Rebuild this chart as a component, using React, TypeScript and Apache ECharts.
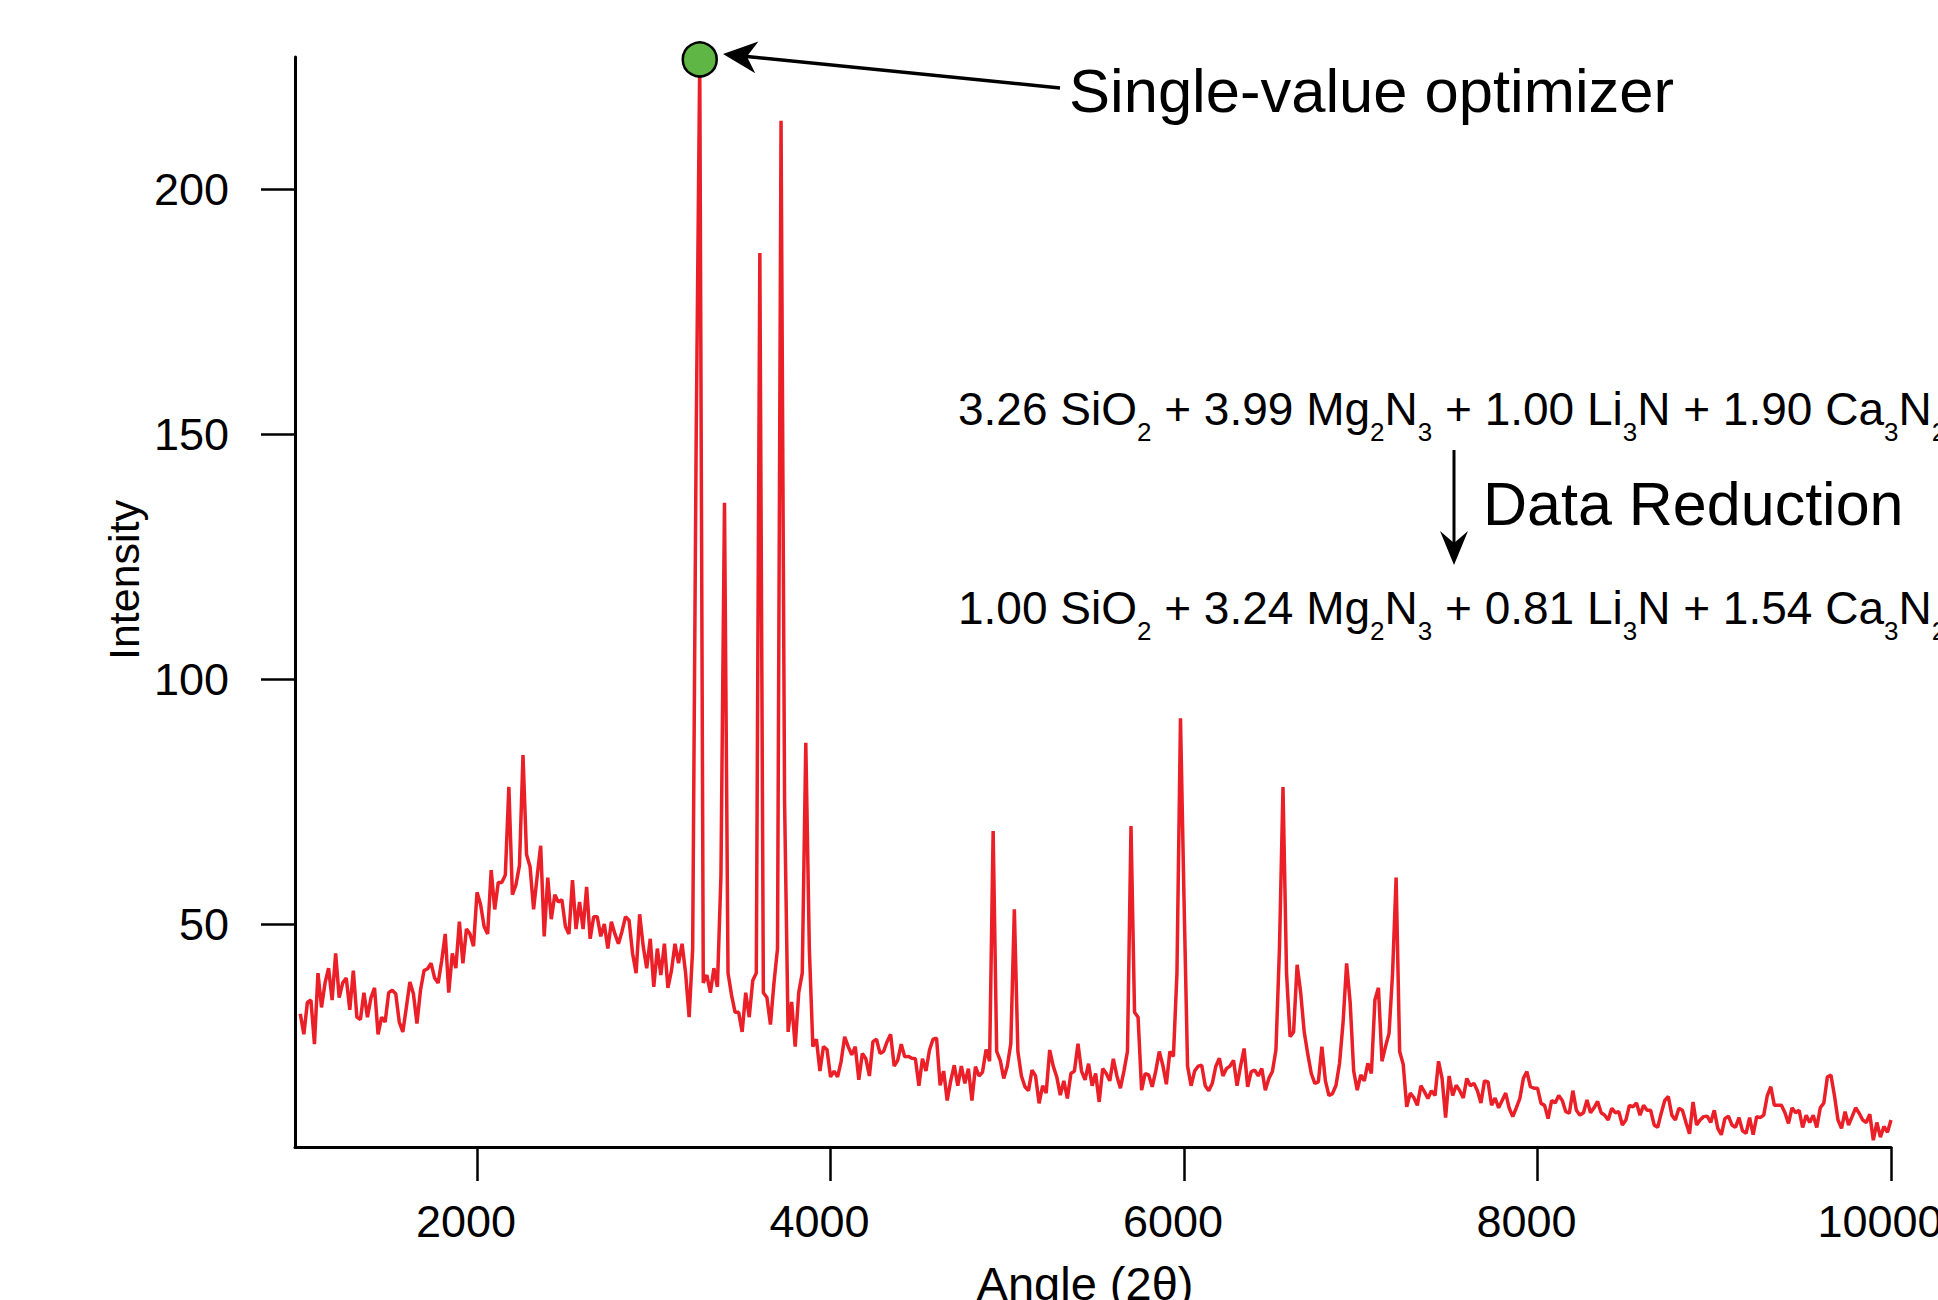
import React, { useEffect, useRef } from "react";
import * as echarts from "echarts";

// ---- Data ----
const ANGLE_START = 1000;
const ANGLE_STEP = 20;

const INTENSITY_1000S = [
  31.7, 27.5, 34, 34.5, 25.5, 40, 33, 38, 41, 34.5,
  44, 35, 38, 39, 32.5, 40.5, 31, 30.5, 36, 31,
  35, 37, 27.5, 31, 30, 36, 36.5, 35.8, 30, 28,
  33, 38.2, 35.8, 29.7, 36.5, 40.5, 40.9, 42, 39, 38,
  42.5, 48, 36, 44, 41, 50.5, 42, 49, 48, 45.5,
];
const INTENSITY_2000S = [
  56.5, 54, 49.5, 48, 61, 53, 58.5, 58.5, 60, 78,
  56, 58, 62, 84.5, 64.2, 61.7, 53, 59.7, 66, 47.5,
  59.5, 51, 56, 54.5, 55, 49.5, 48, 59, 49, 54.5,
  49, 57.6, 47, 51.5, 51.5, 47.5, 50, 45, 50.5, 48,
  46, 48.5, 51.5, 50.8, 44, 40, 52, 45.5, 41, 47,
];
const INTENSITY_3000S = [
  37.2, 45, 39.6, 46, 37, 40.5, 46, 42, 46, 40,
  31, 45, 150, 226.5, 38, 39.6, 36, 41, 37.2, 60,
  136, 40, 35.5, 32, 32, 28, 36, 31, 38.5, 40,
  187, 36, 35, 29.5, 38, 45, 214, 75, 28, 34.1,
  25, 36, 40, 87, 45, 25, 26.5, 20, 25, 24.4,
];
const INTENSITY_4000S = [
  18.8, 20, 18.8, 22, 27, 25, 23.3, 25, 18.2, 23.6,
  22.5, 19, 26, 26.5, 23.6, 24, 26, 27.5, 21, 22.2,
  25.5, 22.9, 23, 22.6, 22.5, 17, 22.5, 20, 24.3, 26.5,
  26.7, 17.1, 20, 14, 18, 21.2, 17, 21, 17.5, 20.5,
  14, 20.9, 19, 19.8, 24.4, 22, 69, 24, 22.2, 18.5,
];
const INTENSITY_5000S = [
  21, 25.6, 53, 24, 19, 16.8, 16, 20.2, 19, 13.4,
  17, 15.5, 24.3, 21, 18.8, 15.1, 18, 14.4, 19.5, 20,
  25.6, 20, 18.2, 21.5, 17, 19.5, 13.7, 20.5, 19.5, 18,
  22.5, 19, 16.5, 20, 24, 70, 32, 31, 16.1, 19.5,
  19.2, 16.8, 20, 24, 21.2, 17.3, 24, 23, 40, 92,
];
const INTENSITY_6000S = [
  55, 21, 17, 20, 21, 21.2, 17, 16, 17.5, 21,
  22.6, 19, 20.5, 21, 22.2, 17, 21, 24.6, 16.8, 19.9,
  20.2, 19, 20.5, 16.1, 18.5, 19.9, 24.3, 45, 78, 40,
  27, 28, 41.7, 36, 28, 23.5, 19.5, 17.5, 17.8, 25,
  18, 15, 15.4, 17.1, 21.6, 30, 42, 34, 20, 16.1,
];
const INTENSITY_7000S = [
  19.2, 18, 21.6, 19.5, 34.5, 37, 22, 25, 27.7, 40,
  59.5, 24, 21.4, 12.7, 15.5, 14.6, 13, 17, 15.8, 14.4,
  16, 15, 22, 18.5, 10.5, 19, 15, 17.1, 16, 14.5,
  18.5, 17, 17.5, 16, 13.5, 18, 17.8, 13, 14.5, 12.5,
  14, 15.5, 12.4, 10.7, 12.5, 14.4, 18.5, 19.9, 16.8, 16.5,
];
const INTENSITY_8000S = [
  16.5, 13.4, 13, 10.3, 14, 13.5, 15, 14, 11.7, 11.4,
  16, 12, 11, 11.5, 14.1, 11.5, 12.5, 13.8, 11.5, 11,
  10, 12.4, 11.5, 11.7, 9, 10, 13, 12.7, 13.5, 11,
  13, 12, 12, 9, 8.5, 11.4, 14, 14.8, 11, 10,
  12.4, 12, 9.5, 7.2, 13.7, 9, 10, 10.7, 10.8, 9.5,
];
const INTENSITY_9000S = [
  12, 8.3, 7, 10.3, 10.8, 9, 8.5, 10.5, 7.8, 7.3,
  10.5, 7, 10.7, 10.5, 11, 15, 16.8, 13, 13, 13,
  11.5, 9.3, 12.5, 11.5, 12, 8.5, 11, 9.5, 11, 8.5,
  12.5, 13.5, 18.8, 19.2, 15, 10, 8.3, 11.7, 9, 10.7,
  12.5, 11.4, 10, 9.5, 11.2, 5.9, 9.5, 6.5, 8.7, 7.5,
  10,
];

const X_TICKS = [2000, 4000, 6000, 8000, 10000];
const Y_TICKS = [50, 100, 150, 200];
const X_RANGE = [970, 10000];
const Y_RANGE = [4.5, 227];

const X_NAME = "Angle (2θ)";
const Y_NAME = "Intensity";
const OPTIMIZER_LABEL = "Single-value optimizer";
const REDUCTION_LABEL = "Data Reduction";
const EQUATION_BEFORE = "{n|3.26 SiO}{s|2}{n| + 3.99 Mg}{s|2}{n|N}{s|3}{n| + 1.00 Li}{s|3}{n|N + 1.90 Ca}{s|3}{n|N}{s|2}";
const EQUATION_AFTER = "{n|1.00 SiO}{s|2}{n| + 3.24 Mg}{s|2}{n|N}{s|3}{n| + 0.81 Li}{s|3}{n|N + 1.54 Ca}{s|3}{n|N}{s|2}";

const FONT = "'Liberation Sans', Arial, Helvetica, sans-serif";

export default function App() {
  const ref = useRef<HTMLDivElement>(null);

  useEffect(() => {
    if (!ref.current) return;
    const chart = echarts.init(ref.current, null, { renderer: "svg" });

    const intensity = [
      ...INTENSITY_1000S,
      ...INTENSITY_2000S,
      ...INTENSITY_3000S,
      ...INTENSITY_4000S,
      ...INTENSITY_5000S,
      ...INTENSITY_6000S,
      ...INTENSITY_7000S,
      ...INTENSITY_8000S,
      ...INTENSITY_9000S,
    ];
    const points = intensity.map((v, i) => [ANGLE_START + i * ANGLE_STEP, v]);
    let maxIdx = 0;
    intensity.forEach((v, i) => {
      if (v > intensity[maxIdx]) maxIdx = i;
    });

    // arrow geometry (annotation styling)
    const tail = [1060, 88];
    const tip = [723, 54];
    const dx = tip[0] - tail[0];
    const dy = tip[1] - tail[1];
    const len = Math.hypot(dx, dy);
    const ux = dx / len, uy = dy / len;
    const nx = -uy, ny = ux;
    const headL = 34, headW = 16, notch = 10;
    const b1 = [tip[0] - headL * ux + headW * nx, tip[1] - headL * uy + headW * ny];
    const b2 = [tip[0] - headL * ux - headW * nx, tip[1] - headL * uy - headW * ny];
    const nt = [tip[0] - (headL - notch) * ux, tip[1] - (headL - notch) * uy];

    const downX = 1454, downTop = 450, downTip = 565;

    const rich = {
      n: { fontSize: 46, fontFamily: FONT, fill: "#000", color: "#000" },
      s: { fontSize: 26, fontFamily: FONT, fill: "#000", color: "#000", padding: [45, 0, 0, 0] },
    };

    const textStyle = (text: string, size: number) => ({
      text,
      fontSize: size,
      fontFamily: FONT,
      fill: "#000",
      align: "left",
      verticalAlign: "middle",
      textAlign: "left",
      textVerticalAlign: "middle",
    });

    chart.setOption({
      animation: false,
      backgroundColor: "#fff",
      grid: {
        left: 295,
        right: 47,
        top: 57,
        bottom: 153,
        containLabel: false,
        outerBoundsMode: "none",
      },
      xAxis: {
        type: "value",
        min: X_RANGE[0],
        max: X_RANGE[1],
        name: X_NAME,
        nameLocation: "middle",
        nameGap: 113,
        nameMoveOverlap: false,
        nameTextStyle: { fontSize: 47, color: "#000", fontFamily: FONT, padding: [0, 16, 0, 0] },
        axisLine: { show: true, onZero: false, lineStyle: { color: "#000", width: 3 } },
        axisTick: { show: true, length: 34, lineStyle: { color: "#000", width: 2.5 }, customValues: X_TICKS },
        axisLabel: {
          customValues: X_TICKS,
          margin: 52,
          fontSize: 45,
          color: "#000",
          fontFamily: FONT,
          padding: [0, 22, 0, 0],
          formatter: (v: number) => String(v),
        },
        splitLine: { show: false },
      },
      yAxis: {
        type: "value",
        min: Y_RANGE[0],
        max: Y_RANGE[1],
        name: Y_NAME,
        nameLocation: "middle",
        nameGap: 150,
        nameMoveOverlap: false,
        nameTextStyle: { fontSize: 43, color: "#000", fontFamily: FONT, padding: [0, 0, 0, 44] },
        axisLine: { show: true, onZero: false, lineStyle: { color: "#000", width: 3 } },
        axisTick: { show: true, length: 34, lineStyle: { color: "#000", width: 2.5 }, customValues: Y_TICKS },
        axisLabel: {
          customValues: Y_TICKS,
          margin: 66,
          fontSize: 45,
          color: "#000",
          fontFamily: FONT,
          formatter: (v: number) => String(v),
        },
        splitLine: { show: false },
      },
      series: [
        {
          type: "line",
          data: points,
          showSymbol: false,
          symbol: "none",
          lineStyle: { color: "#ea1f27", width: 3.5 },
          clip: true,
          z: 2,
        },
        {
          type: "scatter",
          data: [points[maxIdx]],
          symbol: "circle",
          symbolSize: 34,
          itemStyle: { color: "#5fb645", borderColor: "#000", borderWidth: 2.5, opacity: 1 },
          clip: false,
          z: 5,
        },
      ],
      graphic: [
        {
          type: "line",
          shape: { x1: tail[0], y1: tail[1], x2: nt[0], y2: nt[1] },
          style: { stroke: "#000", lineWidth: 3.5 },
          z: 10,
        },
        {
          type: "polygon",
          shape: { points: [tip, b1, nt, b2] },
          style: { fill: "#000" },
          z: 10,
        },
        {
          type: "text",
          x: 1069,
          y: 90,
          style: textStyle(OPTIMIZER_LABEL, 61.5),
          z: 10,
        },
        {
          type: "text",
          x: 958,
          y: 409,
          style: {
            text: EQUATION_BEFORE,
            rich,
            fill: "#000",
            align: "left",
            verticalAlign: "middle",
            textAlign: "left",
            textVerticalAlign: "middle",
          },
          z: 10,
        },
        {
          type: "line",
          shape: { x1: downX, y1: downTop, x2: downX, y2: downTip - 22 },
          style: { stroke: "#000", lineWidth: 3 },
          z: 10,
        },
        {
          type: "polygon",
          shape: {
            points: [
              [downX, downTip],
              [downX - 14, downTip - 34],
              [downX, downTip - 22],
              [downX + 14, downTip - 34],
            ],
          },
          style: { fill: "#000" },
          z: 10,
        },
        {
          type: "text",
          x: 1483,
          y: 504,
          style: textStyle(REDUCTION_LABEL, 61),
          z: 10,
        },
        {
          type: "text",
          x: 958,
          y: 608,
          style: {
            text: EQUATION_AFTER,
            rich,
            fill: "#000",
            align: "left",
            verticalAlign: "middle",
            textAlign: "left",
            textVerticalAlign: "middle",
          },
          z: 10,
        },
      ],
    });

    return () => chart.dispose();
  }, []);

  return (
    <div
      ref={ref}
      style={{ position: "absolute", left: 0, top: 0, width: 1938, height: 1300, background: "#fff" }}
    />
  );
}
